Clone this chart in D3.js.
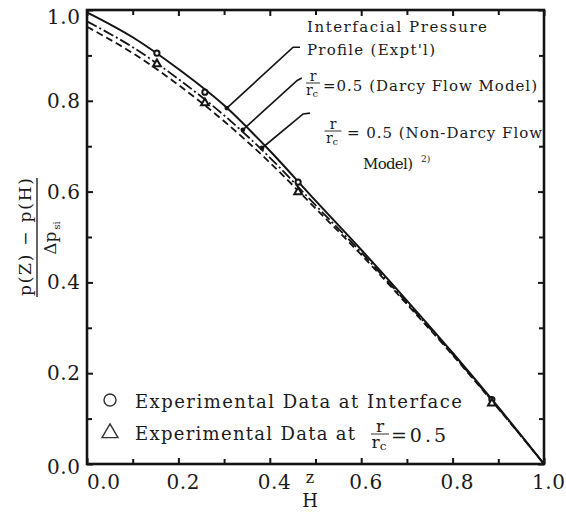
<!DOCTYPE html>
<html><head><meta charset="utf-8">
<script src="https://cdn.jsdelivr.net/npm/d3@7"></script>
<style>
html,body{margin:0;padding:0;background:#fff;}
text{font-family:"DejaVu Serif","Liberation Serif",serif;fill:#1a1a1a;}
</style></head>
<body><svg id="c" width="566" height="514"></svg>
<script>
// ---- data ----
const zGrid = [0, 0.1, 0.2, 0.3, 0.4, 0.5, 0.6, 0.7, 0.8, 0.9, 1.0];
const interfacialProfile = [0.995, 0.94, 0.87, 0.79, 0.69, 0.58, 0.472, 0.36, 0.245, 0.125, 0.0];
const darcyModel        = [0.975, 0.918, 0.848, 0.768, 0.675, 0.57, 0.466, 0.355, 0.242, 0.123, 0.0];
const nonDarcyModel     = [0.963, 0.905, 0.835, 0.755, 0.664, 0.563, 0.461, 0.352, 0.24, 0.122, 0.0];
const circleZ = [0.153, 0.258, 0.462, 0.886];
const circleV = [0.905, 0.819, 0.621, 0.142];
const triZ    = [0.153, 0.258, 0.462, 0.886];
const triV    = [0.881, 0.795, 0.599, 0.134];
const majorTicks = [0, 0.2, 0.4, 0.6, 0.8, 1.0];
const tickLabels = ["0.0", "0.2", "0.4", "0.6", "0.8", "1.0"];
const minorTicks = [0.1, 0.3, 0.5, 0.7, 0.9];
// leader lines: [label-end z, v], [elbow z, v], [curve z, v]
const leaders = [
  [[0.466, 0.918], [0.451, 0.918], [0.306, 0.784]],
  [[0.470, 0.850], [0.460, 0.845], [0.341, 0.736]],
  [[0.488, 0.773], [0.473, 0.771], [0.383, 0.696]]
];

const svg = d3.select("#c");
const L = 87, R = 544, T = 10, B = 464;
const x = d3.scaleLinear().domain([0, 1]).range([L, R]);
const y = d3.scaleLinear().domain([0, 1]).range([B, T]);
const ink = "#141414";

// frame
svg.append("rect").attr("x", L).attr("y", T).attr("width", R - L).attr("height", B - T)
  .attr("fill", "none").attr("stroke", ink).attr("stroke-width", 2.6);

// ticks (inward) on all sides using axis generators
function ticksAll(vals, len) {
  svg.append("g").attr("transform", `translate(0,${B})`)
    .call(d3.axisTop(x).tickValues(vals).tickSize(len).tickFormat(""));
  svg.append("g").attr("transform", `translate(0,${T})`)
    .call(d3.axisBottom(x).tickValues(vals).tickSize(len).tickFormat(""));
  svg.append("g").attr("transform", `translate(${L},0)`)
    .call(d3.axisRight(y).tickValues(vals).tickSize(len).tickFormat(""));
  svg.append("g").attr("transform", `translate(${R},0)`)
    .call(d3.axisLeft(y).tickValues(vals).tickSize(len).tickFormat(""));
}
ticksAll(majorTicks, 6);
ticksAll(minorTicks, 5);
svg.selectAll(".domain").remove();
svg.selectAll(".tick line").attr("stroke", ink).attr("stroke-width", 2);

// tick labels
majorTicks.forEach((v, i) => {
  const yy = Math.max(y(v), T + 7) + 7 + (v === 0 ? 3 : 0);
  svg.append("text").attr("x", 80).attr("y", yy).attr("text-anchor", "end")
    .attr("font-size", 20).attr("textLength", 33).attr("lengthAdjust", "spacing").text(tickLabels[i]);
  const xx = v === 0 ? x(v) + 16 : x(v) + 4;
  svg.append("text").attr("x", xx - 16).attr("y", 489)
    .attr("font-size", 20).attr("textLength", 33).attr("lengthAdjust", "spacing").text(tickLabels[i]);
});

// x axis label z/H
svg.append("text").attr("x", 310).attr("y", 483).attr("text-anchor", "middle").attr("font-size", 16).text("z");
svg.append("text").attr("x", 310).attr("y", 507).attr("text-anchor", "middle").attr("font-size", 18).text("H");

// y axis label
svg.append("text").attr("transform", "translate(31,237) rotate(-90)").attr("text-anchor", "middle")
  .attr("font-size", 17).attr("textLength", 118).attr("lengthAdjust", "spacing").text("p(Z) − p(H)");
svg.append("line").attr("x1", 37).attr("x2", 37).attr("y1", 178).attr("y2", 297).attr("stroke", ink).attr("stroke-width", 1.3);
const den = svg.append("text").attr("transform", "translate(56,238) rotate(-90)").attr("text-anchor", "middle").attr("font-size", 17);
den.append("tspan").text("Δp");
den.append("tspan").attr("font-size", 10).attr("dy", 4).attr("dx", 2).text("si");

// curves
const line = d3.line().x((d) => x(d[0])).y((d) => y(d[1])).curve(d3.curveMonotoneX);
const series = [
  {vals: interfacialProfile, dash: null, w: 2.0},
  {vals: darcyModel, dash: "11,3,2,3", w: 1.8},
  {vals: nonDarcyModel, dash: "7,4", w: 1.8}
];
series.forEach(s => {
  svg.append("path").datum(zGrid.map((z, i) => [z, s.vals[i]]))
    .attr("d", line).attr("fill", "none").attr("stroke", ink)
    .attr("stroke-width", s.w).attr("stroke-dasharray", s.dash);
});

// markers
circleZ.forEach((z, i) => {
  svg.append("circle").attr("cx", x(z)).attr("cy", y(circleV[i])).attr("r", 2.6)
    .attr("fill", "#fff").attr("stroke", ink).attr("stroke-width", 2);
});
const tri = d3.symbol().type(d3.symbolTriangle).size(26);
triZ.forEach((z, i) => {
  svg.append("path").attr("d", tri).attr("transform", `translate(${x(z)},${y(triV[i])})`)
    .attr("fill", "#fff").attr("stroke", ink).attr("stroke-width", 2);
});

// leaders
leaders.forEach(ld => {
  svg.append("polyline").attr("points", ld.map(p => `${x(p[0])},${y(p[1])}`).join(" "))
    .attr("fill", "none").attr("stroke", ink).attr("stroke-width", 1.7);
  const e = ld[2];
  svg.append("circle").attr("cx", x(e[0])).attr("cy", y(e[1])).attr("r", 2.4).attr("fill", ink);
});

// annotation labels
function txt(xx, yy, s, size, len) {
  const t = svg.append("text").attr("x", xx).attr("y", yy).attr("font-size", size).text(s);
  if (len) t.attr("textLength", len).attr("lengthAdjust", "spacing");
  return t;
}
function frac(cx, barY, w, size) {
  svg.append("text").attr("x", cx).attr("y", barY - 2).attr("text-anchor", "middle").attr("font-size", size).text("r");
  svg.append("line").attr("x1", cx - w / 2).attr("x2", cx + w / 2).attr("y1", barY).attr("y2", barY).attr("stroke", "#333").attr("stroke-width", 1);
  const t = svg.append("text").attr("x", cx - 1).attr("y", barY + size * 0.85).attr("text-anchor", "middle").attr("font-size", size);
  t.append("tspan").text("r");
  t.append("tspan").attr("font-size", size * 0.7).attr("dy", 2).text("c");
}
txt(307, 32, "Interfacial Pressure", 15, 180);
txt(307, 55, "Profile (Expt'l)", 15, 128);
frac(313, 83, 14, 14);
txt(323, 91, "=0.5 (Darcy Flow Model)", 15, 214);
frac(333, 131, 17, 14);
txt(347, 138, "= 0.5 (Non-Darcy Flow", 15, 195);
txt(363, 169, "Model)", 15, 50);
txt(421, 162, "2)", 9);

// bottom legend
svg.append("circle").attr("cx", 110).attr("cy", 400).attr("r", 6).attr("fill", "none").attr("stroke", "#333").attr("stroke-width", 1.4);
svg.append("path").attr("d", d3.symbol().type(d3.symbolTriangle).size(110)).attr("transform", "translate(110,433)")
  .attr("fill", "none").attr("stroke", "#333").attr("stroke-width", 1.4);
txt(135, 408, "Experimental Data at Interface", 18, 327);
txt(135, 440, "Experimental Data at", 18, 220);
frac(380, 434, 18, 17);
txt(391, 442, "=0.5", 19, 55);
</script></body></html>
